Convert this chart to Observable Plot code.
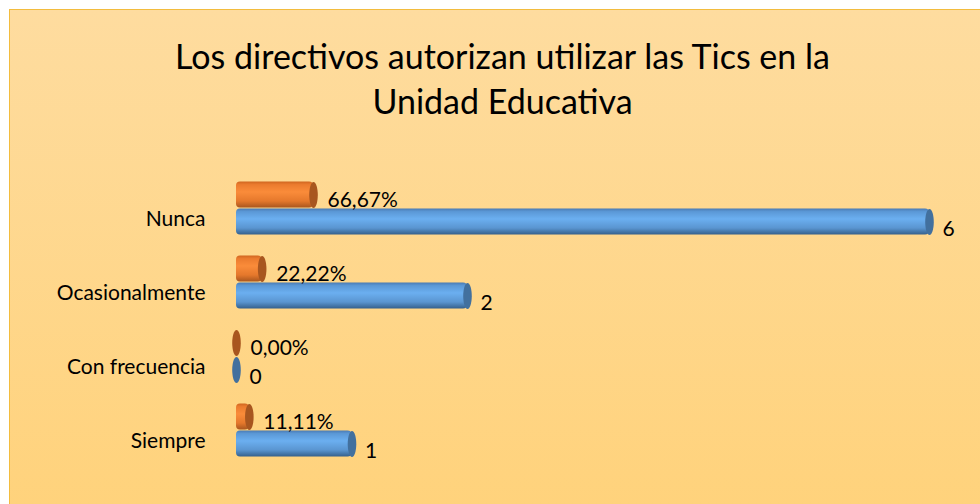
<!DOCTYPE html>
<html>
<head>
<meta charset="utf-8">
<script src="https://cdn.jsdelivr.net/npm/d3@7"></script>
<script src="https://cdn.jsdelivr.net/npm/@observablehq/plot@0.6"></script>
<style>
  html, body { margin: 0; padding: 0; background: #ffffff; }
  body { width: 980px; height: 504px; overflow: hidden; position: relative; font-family: Lato, "Open Sans", sans-serif; }
  #frame { position: absolute; left: 9px; top: 9px; width: 1000px; height: 520px; box-sizing: border-box;
           border: 1px solid #F3BC3E; background: linear-gradient(to bottom, #FEDC9F, #FFD27A); }
  #title { position: absolute; left: 0; top: 33px; width: 1005px; text-align: center; font-size: 34px; line-height: 45px; color: #000; }
  #chart { position: absolute; left: 0; top: 150px; }
</style>
</head>
<body>
<div id="frame"></div>
<div id="title">Los directivos autorizan utilizar las Tics en la<br>Unidad Educativa</div>
<div id="chart"></div>
<script>
const categories = ["Nunca", "Ocasionalmente", "Con frecuencia", "Siempre"];
const counts = [6, 2, 0, 1];
const percents = [0.6667, 0.2222, 0, 0.1111];
const seriesNames = ["pct", "count"];

const rows = [];
categories.forEach((c, i) => {
  rows.push({cat: c, series: "pct", value: percents[i], label: (percents[i] * 100).toFixed(2).replace(".", ",") + "%"});
  rows.push({cat: c, series: "count", value: counts[i], label: String(counts[i])});
});
const pctRows = rows.filter(d => d.series === "pct");
const countRows = rows.filter(d => d.series === "count");

const ellipse = {
  draw(ctx, size) {
    const ry = Math.sqrt(size / Math.PI), rx = ry * 0.33, k = 0.5523;
    ctx.moveTo(rx, 0);
    ctx.bezierCurveTo(rx, ry * k, rx * k, ry, 0, ry);
    ctx.bezierCurveTo(-rx * k, ry, -rx, ry * k, -rx, 0);
    ctx.bezierCurveTo(-rx, -ry * k, -rx * k, -ry, 0, -ry);
    ctx.bezierCurveTo(rx * k, -ry, rx, -ry * k, rx, 0);
    ctx.closePath();
  }
};

const font = "Lato, 'Open Sans', sans-serif";

const plot = Plot.plot({
  width: 980,
  height: 354,
  marginLeft: 236,
  marginRight: 51,
  marginTop: 30,
  marginBottom: 46.5,
  style: {background: "transparent", fontFamily: font, fontSize: "21px", color: "#000"},
  x: {domain: [0, 6], axis: null},
  y: {domain: seriesNames, padding: 0, axis: null},
  fy: {domain: categories, paddingInner: 0.275, paddingOuter: 0, axis: null},
  marks: [
    Plot.barX(pctRows, {x: "value", y: "series", fy: "cat", fill: "url(#gOrange)", insetTop: 0.5, insetBottom: 0.5, rx: 4}),
    Plot.barX(countRows, {x: "value", y: "series", fy: "cat", fill: "url(#gBlue)", insetTop: 0.5, insetBottom: 0.5, rx: 4}),
    Plot.dot(pctRows, {x: "value", y: "series", fy: "cat", r: 13, symbol: ellipse, fill: "#A8561F", stroke: "none"}),
    Plot.dot(countRows, {x: "value", y: "series", fy: "cat", r: 13, symbol: ellipse, fill: "#42709E", stroke: "none"}),
    Plot.text(pctRows, {x: "value", y: "series", fy: "cat", text: "label", textAnchor: "start", dx: 14, dy: 5, fill: "#000", fontSize: 21}),
    Plot.text(countRows, {x: "value", y: "series", fy: "cat", text: "label", textAnchor: "start", dx: 13, dy: 7, fill: "#000", fontSize: 21}),
    Plot.text(countRows, {x: 0, y: "series", fy: "cat", text: "cat", textAnchor: "end", dx: -31, dy: -3, fill: "#000", fontSize: 21})
  ]
});

const ns = "http://www.w3.org/2000/svg";
const defs = document.createElementNS(ns, "defs");
function grad(id, stops) {
  const g = document.createElementNS(ns, "linearGradient");
  g.setAttribute("id", id);
  g.setAttribute("x1", "0"); g.setAttribute("y1", "0"); g.setAttribute("x2", "0"); g.setAttribute("y2", "1");
  stops.forEach(([o, c]) => {
    const s = document.createElementNS(ns, "stop");
    s.setAttribute("offset", o); s.setAttribute("stop-color", c);
    g.appendChild(s);
  });
  defs.appendChild(g);
}
grad("gBlue", [[0, "#4A7BB4"], [0.12, "#5B98D6"], [0.4, "#6BAFF0"], [0.75, "#5A95D0"], [1, "#35608C"]]);
grad("gOrange", [[0, "#D06620"], [0.12, "#EB7B2E"], [0.4, "#FA8C3A"], [0.75, "#E5782C"], [1, "#A9561E"]]);
plot.insertBefore(defs, plot.firstChild);
document.getElementById("chart").appendChild(plot);
</script>
</body>
</html>
